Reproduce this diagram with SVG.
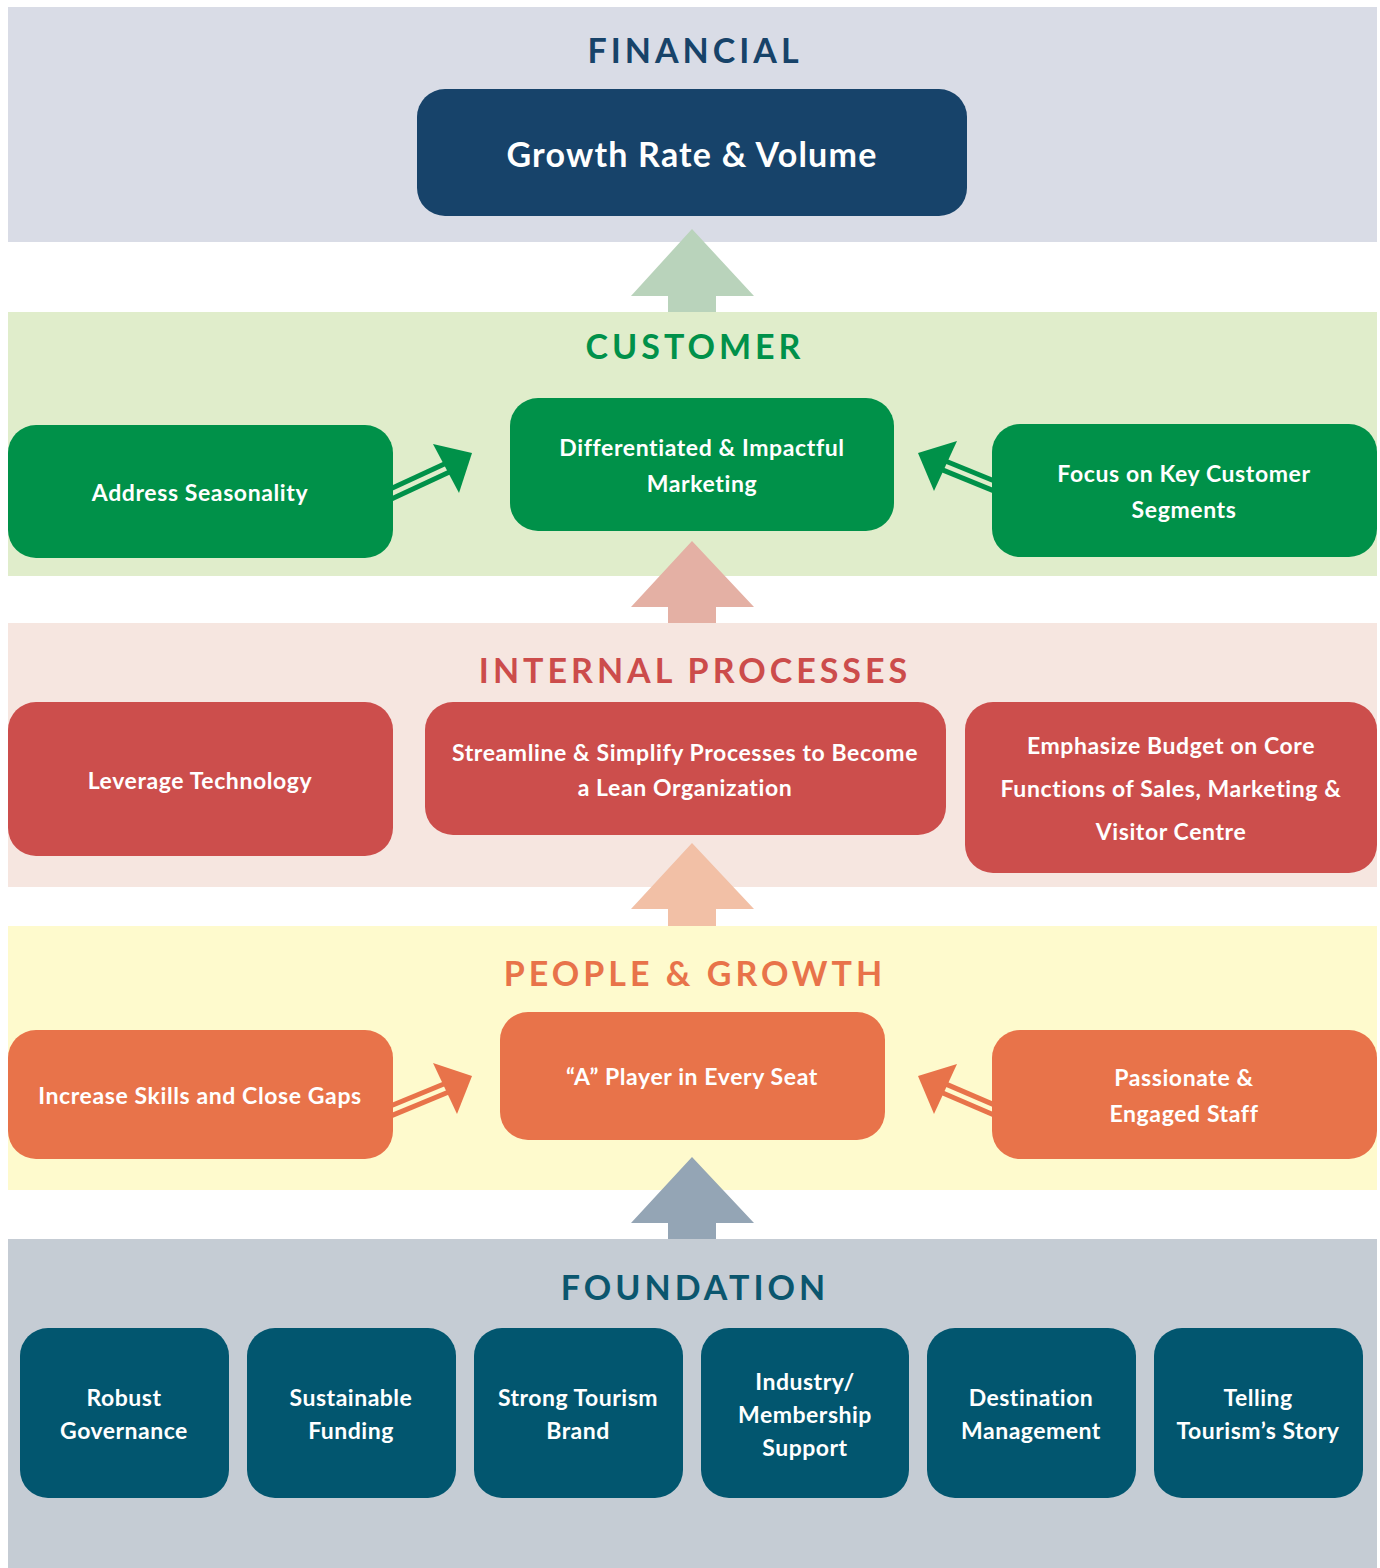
<svg xmlns="http://www.w3.org/2000/svg" width="1380" height="1568" viewBox="0 0 1380 1568">
<style>
.t{font-family:Lato,"Liberation Sans",sans-serif;font-weight:700;text-anchor:middle}
.title{font-size:34px;letter-spacing:4px}
.nt{font-size:23px;letter-spacing:0.6px;fill:#ffffff}
.ft{font-size:23px;letter-spacing:0.5px;fill:#ffffff}
.dl{stroke-width:5;fill:none}
</style>
<rect width="1380" height="1568" fill="#ffffff"/>
<!-- bands -->
<rect x="8" y="7" width="1369" height="235" fill="#d9dce6"/>
<rect x="8" y="312" width="1369" height="264" fill="#e0edcb"/>
<rect x="8" y="623" width="1369" height="264" fill="#f6e6e0"/>
<rect x="8" y="926" width="1369" height="264" fill="#fefacd"/>
<rect x="8" y="1239" width="1369" height="329" fill="#c5ccd4"/>
<!-- titles -->
<text class="t title" x="695" y="63" fill="#174369">FINANCIAL</text>
<text class="t title" x="695" y="359" fill="#00914a">CUSTOMER</text>
<text class="t title" x="695" y="683" fill="#cc4c4b">INTERNAL PROCESSES</text>
<text class="t title" x="695" y="986" fill="#e8734a">PEOPLE &amp; GROWTH</text>
<text class="t title" x="695" y="1300" fill="#0b566e">FOUNDATION</text>
<g id="connectors">
<polygon points="692,229 754,296 716,296 716,312 668,312 668,296 631,296" fill="#b9d3bb"/>
<polygon points="692,541 754,607 716,607 716,623 668,623 668,607 631,607" fill="#e4b0a4"/>
<polygon points="692,843 754,909 716,909 716,926 668,926 668,909 631,909" fill="#f2c0a6"/>
<polygon points="692,1157 754,1223 716,1223 716,1239 668,1239 668,1223 631,1223" fill="#94a5b5"/>
<g stroke="#009149" class="dl">
<line x1="383.7" y1="492.1" x2="447.6" y2="462.5"/>
<line x1="387.7" y1="500.7" x2="451.6" y2="471.1"/>
<line x1="1001.2" y1="483.7" x2="943.6" y2="460.2"/>
<line x1="997.6" y1="492.4" x2="940.0" y2="468.9"/>
</g>
<polygon points="472,453 433,444 459,493" fill="#009149"/>
<polygon points="918,453 957,441 934,491" fill="#009149"/>
<g stroke="#e8734a" class="dl">
<line x1="383.8" y1="1108.8" x2="446.9" y2="1082.7"/>
<line x1="387.4" y1="1117.4" x2="450.5" y2="1091.3"/>
<line x1="1001.3" y1="1107.9" x2="943.7" y2="1083.1"/>
<line x1="997.5" y1="1116.5" x2="939.9" y2="1091.7"/>
</g>
<polygon points="472,1076 433,1063 457,1114" fill="#e8734a"/>
<polygon points="918,1076 957,1064 934,1114" fill="#e8734a"/>
</g>
<g id="growth">
<rect x="417" y="89" width="550" height="127" rx="28" fill="#17436a"/>
<text class="t" x="692" y="167" font-size="34" letter-spacing="1.2" fill="#ffffff">Growth Rate &amp; Volume</text>
</g>
<g id="address-seasonality">
<rect x="8" y="425" width="385" height="133" rx="28" fill="#009149"/>
<text class="t nt" x="200" y="501">Address Seasonality</text>
</g>
<g id="differentiated-marketing">
<rect x="510" y="398" width="384" height="133" rx="28" fill="#009149"/>
<text class="t nt" x="702" y="456">Differentiated &amp; Impactful</text>
<text class="t nt" x="702" y="492">Marketing</text>
</g>
<g id="focus-segments">
<rect x="992" y="424" width="385" height="133" rx="28" fill="#009149"/>
<text class="t nt" x="1184" y="482">Focus on Key Customer</text>
<text class="t nt" x="1184" y="518">Segments</text>
</g>
<g id="leverage-technology">
<rect x="8" y="702" width="385" height="154" rx="28" fill="#cc4e4c"/>
<text class="t nt" x="200" y="789">Leverage Technology</text>
</g>
<g id="streamline">
<rect x="425" y="702" width="521" height="133" rx="28" fill="#cc4e4c"/>
<text class="t nt" x="685" y="761">Streamline &amp; Simplify Processes to Become</text>
<text class="t nt" x="685" y="796">a Lean Organization</text>
</g>
<g id="emphasize-budget">
<rect x="965" y="702" width="412" height="171" rx="28" fill="#cc4e4c"/>
<text class="t nt" x="1171" y="754">Emphasize Budget on Core</text>
<text class="t nt" x="1171" y="797">Functions of Sales, Marketing &amp;</text>
<text class="t nt" x="1171" y="840">Visitor Centre</text>
</g>
<g id="increase-skills">
<rect x="8" y="1030" width="385" height="129" rx="28" fill="#e8734a"/>
<text class="t nt" x="200" y="1104">Increase Skills and Close Gaps</text>
</g>
<g id="a-player">
<rect x="500" y="1012" width="385" height="128" rx="28" fill="#e8734a"/>
<text class="t nt" x="692" y="1085">“A” Player in Every Seat</text>
</g>
<g id="passionate-staff">
<rect x="992" y="1030" width="385" height="129" rx="28" fill="#e8734a"/>
<text class="t nt" x="1184" y="1086">Passionate &amp;</text>
<text class="t nt" x="1184" y="1122">Engaged Staff</text>
</g>
<g id="robust-governance">
<rect x="20" y="1328" width="209" height="170" rx="28" fill="#02566f"/>
<text class="t ft" x="124" y="1406">Robust</text>
<text class="t ft" x="124" y="1439">Governance</text>
</g>
<g id="sustainable-funding">
<rect x="247" y="1328" width="209" height="170" rx="28" fill="#02566f"/>
<text class="t ft" x="351" y="1406">Sustainable</text>
<text class="t ft" x="351" y="1439">Funding</text>
</g>
<g id="strong-brand">
<rect x="474" y="1328" width="209" height="170" rx="28" fill="#02566f"/>
<text class="t ft" x="578" y="1406">Strong Tourism</text>
<text class="t ft" x="578" y="1439">Brand</text>
</g>
<g id="industry-support">
<rect x="701" y="1328" width="208" height="170" rx="28" fill="#02566f"/>
<text class="t ft" x="805" y="1390">Industry/</text>
<text class="t ft" x="805" y="1423">Membership</text>
<text class="t ft" x="805" y="1456">Support</text>
</g>
<g id="destination-management">
<rect x="927" y="1328" width="209" height="170" rx="28" fill="#02566f"/>
<text class="t ft" x="1031" y="1406">Destination</text>
<text class="t ft" x="1031" y="1439">Management</text>
</g>
<g id="telling-story">
<rect x="1154" y="1328" width="209" height="170" rx="28" fill="#02566f"/>
<text class="t ft" x="1258" y="1406">Telling</text>
<text class="t ft" x="1258" y="1439">Tourism’s Story</text>
</g>
</svg>
